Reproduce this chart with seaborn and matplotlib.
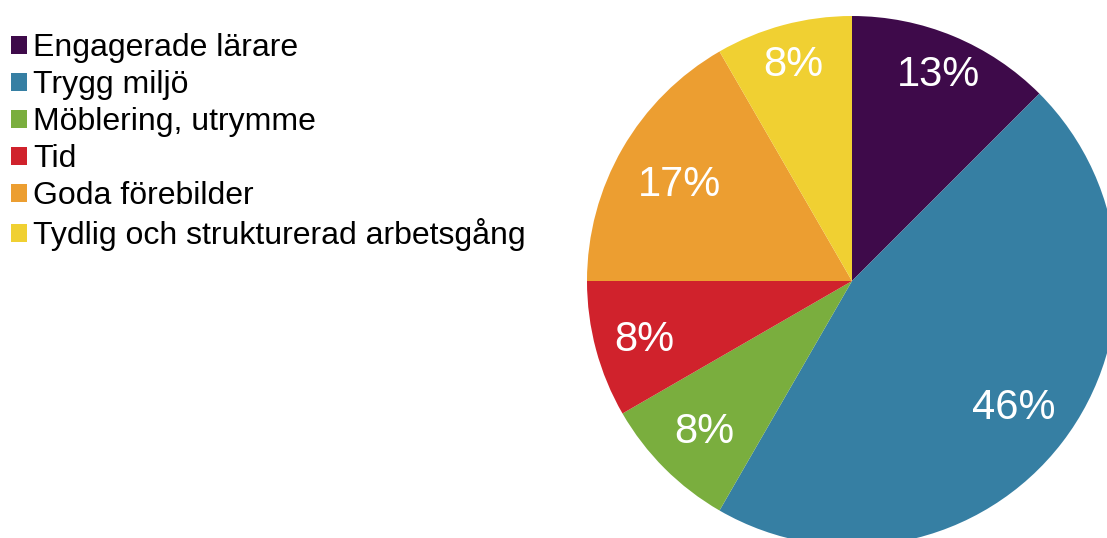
import matplotlib
matplotlib.use("Agg")
import numpy as np
import matplotlib.pyplot as plt
import seaborn as sns
from matplotlib.patches import Patch

categories = ["Engagerade lärare", "Trygg miljö", "Möblering, utrymme", "Tid", "Goda förebilder",
              "Tydlig och strukturerad arbetsgång"]
values = [3, 11, 2, 2, 4, 2]
colors = ["#3E0A4A", "#367FA3", "#7AAE3E", "#D0222C", "#EC9E31", "#F0D032"]
label_dist = [0.855, 0.77, 0.79, 0.81, 0.75, 0.855]

sns.set_theme(style="white")
plt.rcParams["font.family"] = ["Liberation Sans", "DejaVu Sans"]
plt.rcParams["text.color"] = "black"
palette = sns.color_palette(colors)

fig = plt.figure(figsize=(11.07, 5.38), dpi=100)
W, H = 1107, 538
cx, cy, r = 852, 538 - 281, 265
ax = fig.add_axes([(cx - r) / W, (cy - r) / H, 2 * r / W, 2 * r / H])

wedges, texts, autotexts = ax.pie(
    values, colors=palette, startangle=90, counterclock=False,
    autopct=lambda p: f"{int(p + 0.5)}%", pctdistance=0.8,
    textprops=dict(color="white", fontsize=30),
    wedgeprops=dict(linewidth=0),
)
ax.set_xlim(-1, 1)
ax.set_ylim(-1, 1)
ax.set_aspect("equal")
for w, t, d in zip(wedges, autotexts, label_dist):
    w.set_clip_on(False)
    th = np.deg2rad((w.theta1 + w.theta2) / 2)
    t.set_position((d * np.cos(th), d * np.sin(th) - 0.012))

handles = [Patch(facecolor=c, edgecolor="none") for c in palette]
fig.legend(handles, categories, loc="upper left", bbox_to_anchor=(11 / W, 1 - 33 / H),
           frameon=False, fontsize=23, handlelength=0.5, handleheight=0.5,
           handletextpad=0.2, labelspacing=0.22, borderpad=0, borderaxespad=0,
           labelcolor="black")

fig.savefig("out.png", dpi=100)
